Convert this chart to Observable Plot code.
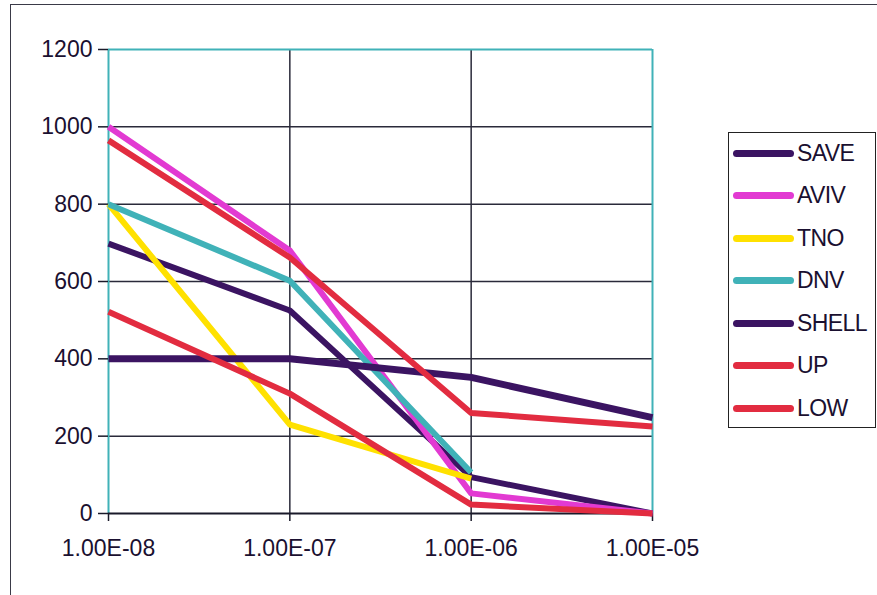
<!DOCTYPE html>
<html>
<head>
<meta charset="utf-8">
<script src="https://cdn.jsdelivr.net/npm/d3@7"></script>
<script src="https://cdn.jsdelivr.net/npm/@observablehq/plot@0.6"></script>
<style>
  html, body { margin: 0; padding: 0; background: #fff; }
  #wrap { position: relative; width: 877px; height: 595px; overflow: hidden; font-family: "Liberation Sans", Arial, sans-serif; }
  #frame { position: absolute; left: 10px; top: 4px; width: 900px; height: 700px; border-left: 1.5px solid #3a3a48; border-top: 1.5px solid #3a3a48; }
  #chart { position: absolute; left: 0; top: 0; }
  #legend { position: absolute; left: 728px; top: 132px; width: 148px; height: 296px; border: 1.5px solid #222; box-sizing: border-box; background: #fff; }
  .item { position: absolute; left: 4px; height: 24px; display: flex; align-items: center; }
  .sw { width: 61px; height: 7px; border-radius: 3.5px; margin-right: 3px; }
  .lab { font-size: 23px; color: #1a1030; letter-spacing: -0.6px; }
</style>
</head>
<body>
<div id="wrap">
  <div id="frame"></div>
  <div id="chart"></div>
  <div id="legend"></div>
</div>
<script>
const xVals = [1e-8, 1e-7, 1e-6, 1e-5];
const xTickLabels = ["1.00E-08", "1.00E-07", "1.00E-06", "1.00E-05"];
const yTicks = [0, 200, 400, 600, 800, 1000, 1200];
const seriesNames = ["SAVE", "AVIV", "TNO", "DNV", "SHELL", "UP", "LOW"];
const seriesLabels = ["SAVE", "AVIV", "TNO", "DNV", "SHELL", "UP", "LOW"];
const colors = ["#3b1462", "#e23ad2", "#ffe100", "#40b2b8", "#3b1462", "#e22c40", "#e22c40"];
const widths = [6, 6, 6, 6, 7, 6, 6];

const save  = [698, 525, 94, 0];
const aviv  = [1000, 680, 52, 0];
const tno   = [800, 230, 90, null];
const dnv   = [800, 602, 106, null];
const shell = [400, 400, 352, 248];
const up    = [965, 662, 260, 225];
const low   = [522, 310, 23, 0];
const seriesValues = [save, aviv, tno, dnv, shell, up, low];

const rows = [];
seriesNames.forEach((s, i) => {
  seriesValues[i].forEach((v, j) => {
    if (v !== null) rows.push({series: s, x: xVals[j], y: v});
  });
});

const lineMarks = seriesNames.map((s, i) =>
  Plot.line(rows.filter(r => r.series === s), {
    x: "x", y: "y", stroke: colors[i], strokeWidth: widths[i], strokeLinejoin: "round", strokeLinecap: "butt"
  })
);

const gridY = yTicks.filter(t => t > 0 && t < 1200);
const gridX = xVals.slice(1, 3);

const chart = Plot.plot({
  width: 877,
  height: 595,
  marginLeft: 108,
  marginRight: 225,
  marginTop: 49,
  marginBottom: 82,
  style: {fontFamily: "Liberation Sans, Arial, sans-serif", fontSize: "23px", color: "#1a1030", background: "transparent"},
  x: {type: "log", domain: [1e-8, 1e-5], label: null},
  y: {domain: [0, 1200], label: null},
  marks: [
    Plot.ruleY(gridY, {stroke: "#2a2a3a", strokeWidth: 1.5}),
    Plot.ruleX(gridX, {stroke: "#2a2a3a", strokeWidth: 1.5}),
    Plot.ruleY([1200], {stroke: "#40b2b8", strokeWidth: 2}),
    Plot.ruleX([1e-8, 1e-5], {stroke: "#40b2b8", strokeWidth: 2}),
    Plot.ruleY([0], {stroke: "#1a1a2a", strokeWidth: 2}),
    Plot.axisY({ticks: yTicks, label: null, tickSize: 10, tickPadding: 6, tickFormat: d => String(d), stroke: "#1a1a2a", strokeWidth: 1.5}),
    Plot.axisX({ticks: xVals, label: null, tickSize: 8, tickPadding: 18, tickFormat: d => xTickLabels[xVals.indexOf(d)], stroke: "#1a1a2a", strokeWidth: 1.5}),
    ...lineMarks
  ]
});
document.getElementById("chart").appendChild(chart);

const legend = document.getElementById("legend");
seriesLabels.forEach((s, i) => {
  const it = document.createElement("div");
  it.className = "item";
  it.style.top = (8 + i * 42.5) + "px";
  it.innerHTML = `<div class="sw" style="background:${colors[i]}"></div><span class="lab">${s}</span>`;
  legend.appendChild(it);
});
</script>
</body>
</html>
